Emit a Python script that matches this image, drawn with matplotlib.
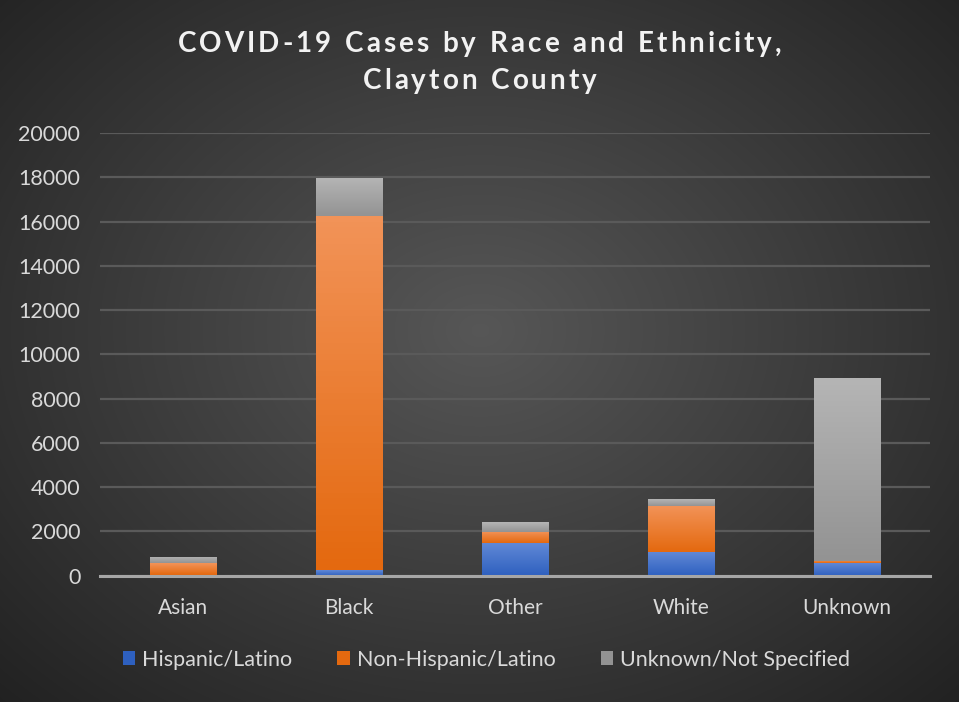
import numpy as np
import matplotlib.pyplot as plt
from matplotlib.colors import LinearSegmentedColormap

plt.rcParams["font.family"] = ["Lato", "DejaVu Sans"]

categories = ["Asian", "Black", "Other", "White", "Unknown"]
hispanic = [30, 270, 1490, 1080, 555]
non_hispanic = [520, 15980, 500, 2080, 120]
unknown_eth = [280, 1720, 450, 290, 8260]

series = [
    ("Hispanic/Latino", hispanic, ("#2e60bf", "#6088d6")),
    ("Non-Hispanic/Latino", non_hispanic, ("#e4690f", "#f29358")),
    ("Unknown/Not Specified", unknown_eth, ("#939393", "#b5b5b5")),
]
title_lines = ["COVID-19 Cases by Race and Ethnicity,", "Clayton County"]

W, H = 959, 702
fig = plt.figure(figsize=(W / 100, H / 100), dpi=100)

# radial background
bg = fig.add_axes([0, 0, 1, 1], zorder=-10)
yy, xx = np.mgrid[0:H, 0:W]
r = np.sqrt(((xx - 480) / 620.0) ** 2 + ((yy - 330) / 480.0) ** 2)
shade = np.clip(0.34 - 0.19 * r, 0.13, 0.34)
bg.imshow(np.dstack([shade] * 3), aspect="auto", extent=[0, 1, 0, 1])
bg.set_axis_off()

ax = fig.add_axes([0.104, 0.180, 0.866, 0.6305])
ax.set_facecolor("none")

x = np.arange(len(categories))
bottom = np.zeros(len(categories))
handles = []
for label, vals, (c_lo, c_hi) in series:
    bars = ax.bar(x, vals, width=0.40, bottom=bottom, color=c_lo, label=label, zorder=3)
    cmap = LinearSegmentedColormap.from_list(label, [c_lo, c_hi])
    grad = np.linspace(0, 1, 64).reshape(-1, 1)
    for b in bars:
        bx, by = b.get_x(), b.get_y()
        im = ax.imshow(grad, cmap=cmap, origin="lower", aspect="auto",
                       extent=[bx, bx + b.get_width(), by, by + b.get_height()], zorder=4)
        im.set_clip_path(b)
    handles.append(bars)
    bottom += np.array(vals)

ax.set_xlim(-0.5, len(categories) - 0.5)
ax.set_ylim(0, 20000)
ax.set_yticks(np.arange(0, 20001, 2000))
ax.set_xticks(x)
ax.set_xticklabels(categories)
ax.grid(axis="y", color="#5a5a5a", linewidth=1.6, zorder=0)
ax.set_axisbelow(True)
for s in ["top", "right", "left"]:
    ax.spines[s].set_visible(False)
ax.spines["bottom"].set_color("#a6a6a6")
ax.spines["bottom"].set_linewidth(2.2)
ax.spines["bottom"].set_zorder(5)
ax.tick_params(axis="y", length=0, pad=14, labelsize=15.5, labelcolor="#d9d9d9")
ax.tick_params(axis="x", length=0, pad=16, labelsize=15, labelcolor="#d9d9d9")

# title with letter spacing, placed char by char
renderer = fig.canvas.get_renderer()
spacing = 3.0
fs_title = 20
for line, yc in zip(title_lines, [44, 81]):
    widths = []
    for ch in line:
        t = fig.text(0, 0, ch if ch != " " else "n", fontsize=fs_title, fontweight="bold")
        w = t.get_window_extent(renderer).width
        widths.append(w * (0.5 if ch == " " else 1.0))
        t.remove()
    total = sum(widths) + spacing * (len(line) - 1)
    xp = W / 2 - total / 2
    for ch, w in zip(line, widths):
        if ch != " ":
            fig.text(xp / W, 1 - yc / H, ch, ha="left", va="center", fontsize=fs_title,
                     fontweight="bold", color="#f2f2f2")
        xp += w + spacing

fig.legend(handles=handles, loc="center", bbox_to_anchor=(0.507, 0.06), ncol=3,
           frameon=False, fontsize=15.5, labelcolor="#d9d9d9", handlelength=0.6,
           handleheight=0.6, columnspacing=2.1, handletextpad=0.3)

fig.savefig("out.png", dpi=100)
